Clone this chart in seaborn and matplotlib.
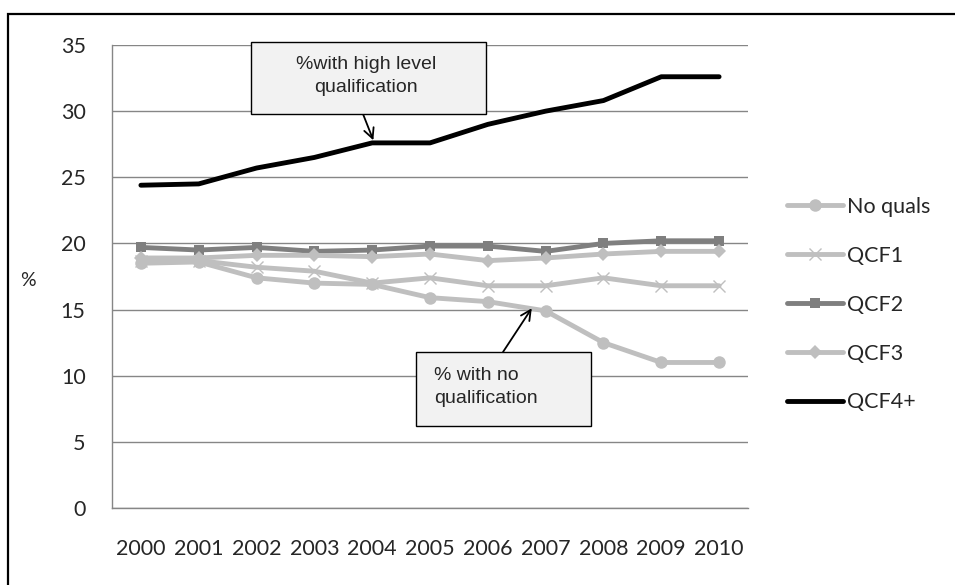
import numpy as np
import pandas as pd
import seaborn as sns
from matplotlib import pyplot as plt
from matplotlib.patches import Rectangle

years = ['2000', '2001', '2002', '2003', '2004', '2005', '2006', '2007', '2008', '2009', '2010']
no_quals = [18.5, 18.6, 17.4, 17.0, 16.9, 15.9, 15.6, 14.9, 12.5, 11.0, 11.0]
qcf1 = [18.7, 18.7, 18.2, 17.9, 17.0, 17.4, 16.8, 16.8, 17.4, 16.8, 16.8]
qcf2 = [19.7, 19.5, 19.7, 19.4, 19.5, 19.8, 19.8, 19.4, 20.0, 20.2, 20.2]
qcf3 = [18.9, 18.9, 19.1, 19.1, 19.0, 19.2, 18.7, 18.9, 19.2, 19.4, 19.4]
qcf4 = [24.4, 24.5, 25.7, 26.5, 27.6, 27.6, 29.0, 30.0, 30.8, 32.6, 32.6]

series = ['No quals', 'QCF1', 'QCF2', 'QCF3', 'QCF4+']
values = [no_quals, qcf1, qcf2, qcf3, qcf4]
colors = ['#BFBFBF', '#BFBFBF', '#7F7F7F', '#BFBFBF', '#000000']
markers = ['o', 'x', 's', 'D', None]
msizes = [9, 9, 7, 7.5, 0]

W, H = 955, 585
def fx(px):
    return px / W
def fy(py):
    return 1 - py / H

sns.set_style("white")
plt.rcParams['font.family'] = ['Lato', 'DejaVu Sans']
note_font = ['Liberation Sans Narrow', 'Liberation Sans', 'DejaVu Sans']

fig = plt.figure(figsize=(9.55, 5.85), dpi=100)
ax = fig.add_axes([fx(112), fy(508), 636 / W, 463 / H])

# outer frame (only top and left edges show in the reference)
fig.patches.append(Rectangle((fx(8), -0.2), 1.3, fy(14) + 0.2, transform=fig.transFigure,
                             fill=False, edgecolor='black', linewidth=1.6, zorder=0))

x = np.arange(len(years))
for name, vals, c, m, ms in zip(series, values, colors, markers, msizes):
    sns.lineplot(x=x, y=vals, ax=ax, color=c, marker=m, markersize=ms, linewidth=3.5,
                 markeredgecolor=c, markeredgewidth=1.0 if m == 'x' else 0, label=name)

ax.set_xlim(-0.5, 10.5)
ax.set_ylim(0, 35)
ax.set_yticks(range(0, 36, 5))
ax.set_xticks(x)
ax.set_xticklabels(years)
ax.set_xticks(np.arange(-0.5, 11, 1), minor=True)
ax.tick_params(axis='x', which='major', length=0, pad=22, labelsize=15.5)
ax.tick_params(axis='x', which='minor', length=5, color='#868686', direction='out')
ax.tick_params(axis='y', length=5, color='#868686', direction='out', pad=14, labelsize=15.5)
ax.yaxis.grid(True, color='#868686', linewidth=1)
ax.set_axisbelow(True)
for s in ['top', 'right']:
    ax.spines[s].set_visible(False)
for s in ['left', 'bottom']:
    ax.spines[s].set_color('#868686')
    ax.spines[s].set_linewidth(1)
ax.set_xlabel('')
ax.set_ylabel('')
fig.text(fx(28), fy(280), '%', fontsize=14, ha='center', va='center')

ax.legend(loc='upper left', bbox_to_anchor=(fx(787), fy(197)), bbox_transform=fig.transFigure,
          frameon=False, fontsize=15.5, handlelength=2.6, labelspacing=1.34, handletextpad=0.2,
          borderpad=0, borderaxespad=0)

# callout boxes
arrow = dict(arrowstyle='->', color='black', lw=1.3, shrinkA=0, shrinkB=0, mutation_scale=18)
fig.patches.append(Rectangle((fx(251), fy(114)), (486 - 251) / W, (114 - 42) / H,
                             transform=fig.transFigure, facecolor='#F2F2F2', edgecolor='black',
                             linewidth=1, zorder=5))
fig.text(fx(366), fy(76), '%with high level\nqualification', ha='center', va='center',
         fontsize=14, family=note_font, linespacing=1.4, zorder=6)
ax.annotate('', xy=(4.02, 27.8), xytext=(fx(363), fy(114)), textcoords='figure fraction',
            arrowprops=arrow)

fig.patches.append(Rectangle((fx(416), fy(426)), (591 - 416) / W, (426 - 352) / H,
                             transform=fig.transFigure, facecolor='#F2F2F2', edgecolor='black',
                             linewidth=1, zorder=5))
fig.text(fx(434), fy(387), '% with no\nqualification', ha='left', va='center',
         fontsize=14, family=note_font, linespacing=1.4, zorder=6)
ax.annotate('', xy=(6.76, 15.1), xytext=(fx(503), fy(352)), textcoords='figure fraction',
            arrowprops=arrow)

plt.savefig('out.png', dpi=100)
